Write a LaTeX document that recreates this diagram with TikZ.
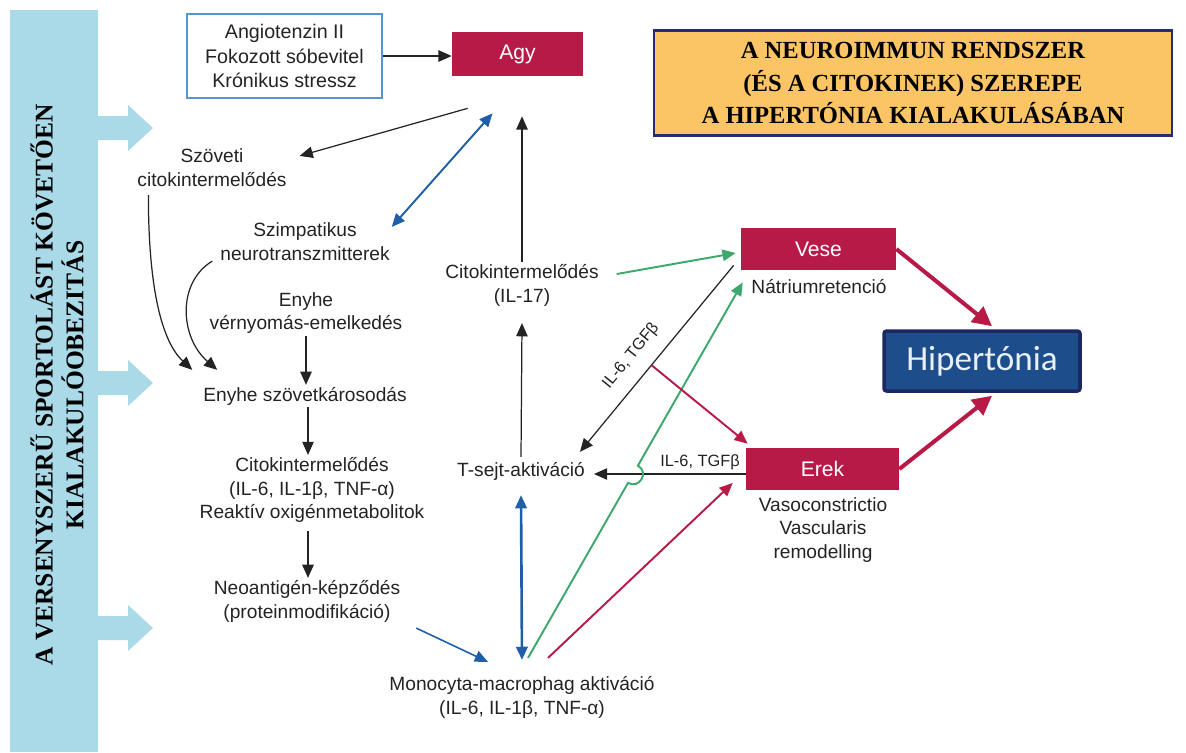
\documentclass[tikz,border=0pt]{standalone}
\usepackage{fontspec}
\setmainfont{Liberation Sans}
\newfontfamily\titlefont{Liberation Serif}
\newfontfamily\hipfont{Carlito}
\usetikzlibrary{arrows.meta}
\usetikzlibrary{calc}

\definecolor{vred}{RGB}{184,26,72}
\definecolor{vgreen}{RGB}{62,168,108}
\definecolor{vblue}{RGB}{31,95,168}
\definecolor{boxblue}{RGB}{84,150,206}
\definecolor{barblue}{RGB}{170,218,232}
\definecolor{titlefill}{RGB}{251,197,102}
\definecolor{titleline}{RGB}{38,44,108}
\definecolor{hipfill}{RGB}{30,77,140}
\definecolor{hipline}{RGB}{27,40,98}
\definecolor{txtgray}{RGB}{35,35,35}

\begin{document}
\begin{tikzpicture}[x=0.02cm, y=-0.02cm,
    lab/.style={align=center, inner sep=1pt, text=txtgray,
        font=\fontsize{10.9}{13.6}\selectfont},
    lbl/.style={inner sep=1pt, text=txtgray, font=\fontsize{9.3}{11}\selectfont},
    redbox/.style={fill=vred, text=white, minimum width=3.06cm,
        minimum height=0.84cm, inner sep=0pt, font=\fontsize{12}{14}\selectfont},
    angbox/.style={draw=boxblue, line width=0.8pt, align=center, text=txtgray,
        minimum width=3.9cm, minimum height=1.68cm,
        font=\fontsize{11.2}{13.8}\selectfont},
    hipbox/.style={fill=hipfill, draw=hipline, line width=2pt, rounded corners=1.5pt,
        minimum width=3.92cm, minimum height=1.2cm, text={rgb,255:red,232;green,240;blue,248},
        font=\hipfont\fontsize{20}{24}\selectfont},
    titlebox/.style={fill=titlefill, draw=titleline, line width=1.6pt, align=center,
        minimum width=10.36cm, minimum height=2.1cm,
        font=\titlefont\bfseries\fontsize{14}{18.4}\selectfont},
    arr/.style={draw=txtgray, line width=0.7pt, -{Triangle[length=7.5pt,width=6.5pt]}},
    bluearr/.style={draw=vblue, line width=1.1pt,
        {Triangle[length=7.5pt,width=6.5pt]}-{Triangle[length=7.5pt,width=6.5pt]}},
    bluetip/.style={draw=vblue, line width=0.9pt, -{Triangle[length=7.5pt,width=6.5pt]}},
    grnarr/.style={draw=vgreen, line width=1.1pt, -{Triangle[length=7.5pt,width=6.5pt]}},
    redarr/.style={draw=vred, line width=1.1pt, -{Triangle[length=7.5pt,width=6.5pt]}},
    thickarr/.style={draw=vred, line width=2.3pt, -{Triangle[length=11pt,width=11pt]}}
]
    \useasboundingbox (0,0) rectangle (1186,752);

    % The bar on the left
    \fill[barblue] (10,10) rectangle (98,752);
    \foreach \y in {128,383,628}
        \fill[barblue] (97,\y-12) -- (128,\y-12) -- (128,\y-23) -- (153,\y)
            -- (128,\y+23) -- (128,\y+12) -- (97,\y+12) -- cycle;
    \node[rotate=90, align=center, font=\titlefont\bfseries\fontsize{14.5}{17.5}\selectfont]
        (bartext) at (57,385) {A VERSENYSZERŰ SPORTOLÁST KÖVETŐEN\\KIALAKULÓOBEZITÁS};

    % Place the boxes
    \node[titlebox] (title) at (913,83) {A NEUROIMMUN RENDSZER\\(ÉS A CITOKINEK) SZEREPE\\A HIPERTÓNIA KIALAKULÁSÁBAN};
    \node[angbox] (ang) at (284.5,56) {Angiotenzin II\\Fokozott sóbevitel\\Krónikus stressz};
    \node[redbox, minimum width=2.62cm, minimum height=0.88cm] (agy) at (517.5,54) {Agy};
    \node[redbox, minimum width=3.1cm] (vese) at (818.5,249) {Vese};
    \node[redbox] (erek) at (822.5,469) {Erek};
    \node[hipbox] (hiper) at (982,361) {Hipertónia};

    % Place the text nodes
    \node[lab] (szoveti) at (212,168) {Szöveti\\citokintermelődés};
    \node[lab] (szimp) at (305,242) {Szimpatikus\\neurotranszmitterek};
    \node[lab] (enyhever) at (306,313) {Enyhe\\vérnyomás-emelkedés};
    \node[lab] (enyhesz) at (305,396) {Enyhe szövetkárosodás};
    \node[lab] (citok) at (312,490) {Citokintermelődés\\(IL-6, IL-1β, TNF-α)\\Reaktív oxigénmetabolitok};
    \node[lab] (neo) at (307,601) {Neoantigén-képződés\\(proteinmodifikáció)};
    \node[lab] (mono) at (522,697) {Monocyta-macrophag aktiváció\\(IL-6, IL-1β, TNF-α)};
    \node[lab] (tsejt) at (521,471) {T-sejt-aktiváció};
    \node[lab] (cito17) at (522,285) {Citokintermelődés\\(IL-17)};
    \node[lab] (natrium) at (819,287) {Nátriumretenció};
    \node[lab] (vaso) at (823,530) {Vasoconstrictio\\Vascularis\\remodelling};

    % Black arrows
    \draw[arr] (ang.east) -- (ang.east -| agy.west);
    \draw[arr] ([shift={(16,32)}]agy.south west) -- ([shift={(11,9)}]szoveti.north east);
    \draw[arr] (cito17.north) -- ($(cito17.north |- agy.south)+(0,40)$);
    \draw[arr] ([shift={(0,-3)}]tsejt.north) -- ([shift={(0,15)}]cito17.south);
    \draw[arr] ([shift={(13,6)}]szoveti.south west) .. controls +(0,95) and +(-30,-28)
        .. ([shift={(-9,-15)}]enyhesz.north west);
    \draw[arr] ([shift={(-6,-2)}]szimp.south west) .. controls +(-36,22) and +(-37,-32)
        .. ([shift={(16,-15)}]enyhesz.north west);
    \draw[arr] (enyhever.south) -- (enyhever.south |- enyhesz.north);
    \draw[arr] ([shift={(3,0)}]enyhesz.south) -- ([shift={(3,0)}]enyhesz.south |- citok.north);
    \draw[arr] ([shift={(-4,6)}]citok.south) -- ([shift={(-4,0)}]citok.south |- neo.north);
    \draw[arr] ([shift={(-7,-5)}]vese.south west) -- ([shift={(-7,-8)}]tsejt.north east)
        coordinate[pos=0.535] (kmid);
    \draw[arr] ([shift={(0,5)}]erek.west) -- ([shift={(7,3)}]tsejt.east);
    \node[lbl, rotate=51] (ila) at (631,356) {IL-6, TGFβ};
    \node[lbl] (ilb) at (700,462) {IL-6, TGFβ};

    % Blue arrows
    \draw[bluearr] ([shift={(-25,37)}]agy.south) -- ([shift={(0,6)}]szimp.north east);
    \draw[bluearr, line width=1.5pt] ([shift={(0,13)}]tsejt.south) -- ([shift={(0,-14)}]mono.north);
    \draw[bluetip] ([shift={(14,4)}]neo.south east) -- ([shift={(-34,-12)}]mono.north);

    % Green arrows, the long one hops over the line from Erek
    \draw[grnarr] ([shift={(16,-11)}]cito17.east) -- ([shift={(-5,4)}]vese.west);
    \coordinate (gs) at ([shift={(6,-16)}]mono.north);
    \coordinate (ge) at ([shift={(2,12)}]vese.south west);
    \coordinate (h1) at ($(gs)!0.466!(ge)$);
    \coordinate (h2) at ($(gs)!0.512!(ge)$);
    \draw[grnarr] (gs) -- (h1) .. controls ($(h1)!7.5pt!-90:(ge)$) and ($(h2)!7.5pt!90:(gs)$)
        .. (h2) -- (ge);

    % Red arrows
    \draw[redarr] ([shift={(26,-16)}]mono.north) -- ([shift={(-13,14)}]erek.west);
    \draw[redarr] (kmid) -- ([shift={(2,-4)}]erek.north west);
    \draw[thickarr] (vese.east) -- ([shift={(10,-3)}]hiper.north);
    \draw[thickarr] (erek.east) -- ([shift={(10,3)}]hiper.south);

\end{tikzpicture}
\end{document}
